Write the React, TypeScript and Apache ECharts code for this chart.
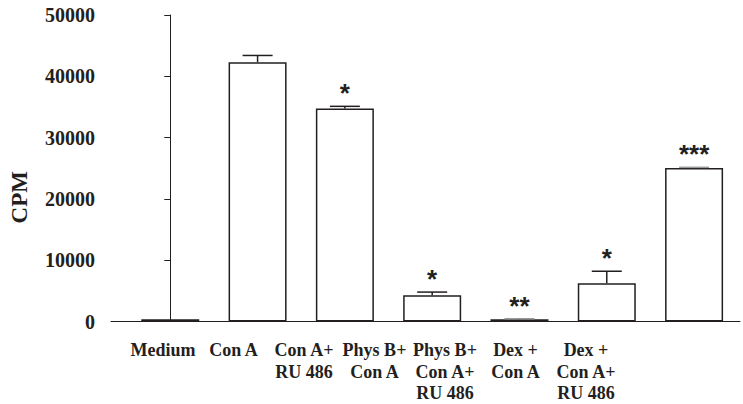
import React, { useEffect, useRef } from "react";
import * as echarts from "echarts";

const categories = [
  "Medium",
  "Con A",
  "Con A+\nRU 486",
  "Phys B+\nCon A",
  "Phys B+\nCon A+\nRU 486",
  "Dex +\nCon A",
  "Dex +\nCon A+\nRU 486",
];
const means = [350, 42300, 34750, 4300, 350, 6250, 25030];
const errors = [0, 1100, 350, 500, 100, 1950, 120];
const stars = ["", "", "*", "*", "**", "*", "***"];
const yTicks = [0, 10000, 20000, 30000, 40000, 50000];

const INK = "#231f20";
const SERIF = "'Liberation Serif', 'Times New Roman', serif";

export default function App() {
  const ref = useRef<HTMLDivElement>(null);
  useEffect(() => {
    document.body.style.margin = "0";
    const chart = echarts.init(ref.current!, null, { renderer: "svg" });
    const positions = categories.map((_, i) => i);
    chart.setOption({
      animation: false,
      backgroundColor: "#fff",
      grid: [
        { left: 109, right: 3, top: 15, bottom: 82.5 },
        { left: 127.75, width: 493.5, top: 15, bottom: 82.5 },
      ],
      xAxis: [
        {
          type: "value",
          gridIndex: 0,
          min: -0.679,
          max: 6.526,
          splitLine: { show: false },
          axisTick: { show: false },
          axisLabel: { show: false },
          axisLine: { show: true, onZero: false, lineStyle: { color: INK, width: 1 } },
        },
        {
          type: "category",
          gridIndex: 1,
          data: categories,
          axisLine: { show: false },
          axisTick: { show: false },
          axisLabel: {
            interval: 0,
            margin: 19,
            color: INK,
            fontFamily: SERIF,
            fontWeight: "bold",
            fontSize: 18,
            lineHeight: 21.5,
            align: "center",
          },
        },
      ],
      yAxis: [
        {
          type: "value",
          gridIndex: 0,
          min: yTicks[0],
          max: yTicks[yTicks.length - 1],
          interval: 10000,
          name: "CPM",
          nameLocation: "middle",
          nameGap: 80,
          nameTextStyle: {
            color: INK,
            fontFamily: SERIF,
            fontWeight: "bold",
            fontSize: 23,
            padding: [0, 58, 0, 0],
          },
          splitLine: { show: false },
          axisLine: { show: true, lineStyle: { color: INK, width: 1 } },
          axisTick: { show: true, length: 6, lineStyle: { color: INK, width: 1 } },
          axisLabel: {
            margin: 16,
            color: INK,
            fontFamily: SERIF,
            fontWeight: "bold",
            fontSize: 20,
            formatter: (v: number) => String(v),
          },
        },
        { type: "value", gridIndex: 1, show: false, min: 0, max: 50000 },
      ],
      series: [
        {
          type: "bar",
          xAxisIndex: 0,
          yAxisIndex: 0,
          barWidth: 58,
          data: positions.map((p, i) => [p, means[i]]),
          itemStyle: { color: "#fff", borderColor: INK, borderWidth: 1.5 },
          z: 2,
        },
        {
          type: "custom",
          xAxisIndex: 0,
          yAxisIndex: 0,
          z: 3,
          data: positions.map((p, i) => [p, means[i], errors[i], i]),
          renderItem: (params: any, api: any) => {
            const x = api.value(0);
            const m = api.value(1);
            const e = api.value(2);
            const idx = api.value(3);
            const base = api.coord([x, m]);
            const top = api.coord([x, m + e]);
            const children: any[] = [];
            if (e > 0) {
              children.push({
                type: "line",
                shape: { x1: base[0], y1: base[1], x2: top[0], y2: top[1] },
                style: { stroke: INK, lineWidth: 1.5 },
              });
              children.push({
                type: "line",
                shape: { x1: top[0] - 15, y1: top[1], x2: top[0] + 15, y2: top[1] },
                style: { stroke: e > 200 ? INK : "#999", lineWidth: 1.5 },
              });
            }
            const s = stars[idx];
            if (s) {
              children.push({
                type: "text",
                x: top[0],
                y: top[1] - 13,
                style: {
                  text: s,
                  fill: INK,
                  font: "bold 26px 'Liberation Sans', Arial, sans-serif",
                  align: "center",
                  verticalAlign: "middle",
                },
              });
            }
            return { type: "group", children };
          },
        },
        {
          type: "bar",
          xAxisIndex: 1,
          yAxisIndex: 1,
          data: categories.map(() => 0),
          itemStyle: { color: "transparent" },
          silent: true,
        },
      ],
    });
    return () => chart.dispose();
  }, []);
  return <div ref={ref} style={{ width: 743, height: 404 }} />;
}
